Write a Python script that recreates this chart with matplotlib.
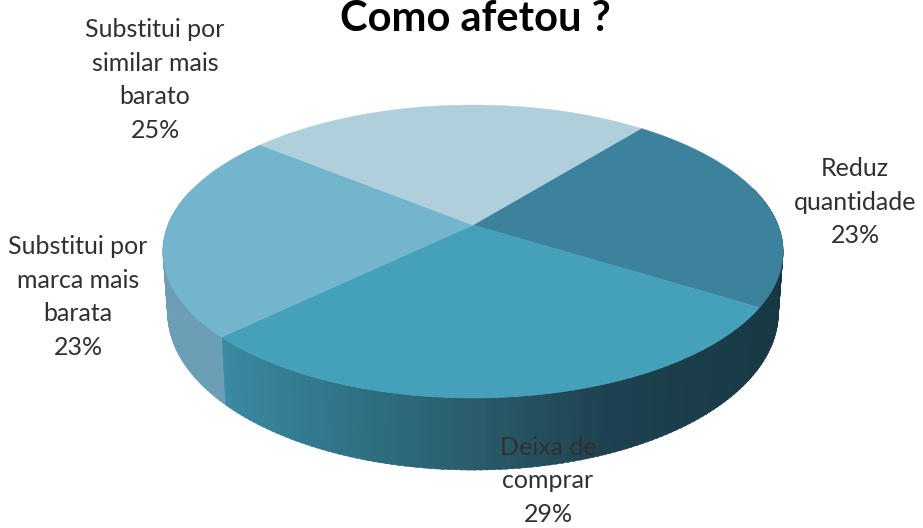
import numpy as np
import matplotlib
matplotlib.use("Agg")
import matplotlib.pyplot as plt
from matplotlib.colors import to_rgb

# dados do grafico, sentido horario
labels = ["Reduz\nquantidade", "Deixa de\ncomprar", "Substitui por\nmarca mais\nbarata", "Substitui por\nsimilar mais\nbarato"]
values = [23, 29, 23, 25]
top_colors = ["#3C829C", "#45A0B9", "#74B5CE", "#B0CFDC"]
label_pos = [(855, 202), (548, 481), (78, 297), (155, 80)]

# geometria da pizza 3D (pixels)
CX, CY = 473, 225
RX, RY = 305, 141.7
PERSP = 0.181
DEPTH = 59
BOTTOM_SHRINK = 0.985
START = 51.0


def project(theta):
    t = np.radians(theta)
    s = 1 + PERSP * np.sin(t)
    return CX + RX * np.cos(t) / s, CY - RY * np.sin(t) / s, s


def wall_color(theta):
    # claro na esquerda, escuro na direita
    x = np.cos(np.radians(theta))
    stops_x = [-1.0, -0.72, -0.3, 0.0, 0.35, 1.0]
    stops_c = ["#3B8AA3", "#3A8AA2", "#2F6F83", "#2A5C6C", "#1E4250", "#173642"]
    rgb = np.array([to_rgb(c) for c in stops_c])
    return tuple(np.interp(x, stops_x, rgb[:, i]) for i in range(3))


fig = plt.figure(figsize=(9.23, 5.28), dpi=100)
ax = fig.add_axes([0, 0, 1, 1])
ax.set_xlim(0, 923)
ax.set_ylim(528, 0)
ax.axis("off")

bounds = START - np.cumsum([0] + values) * 3.6
marca_end = bounds[2] % 360

# parede lateral (so a frente visivel)
for a in np.arange(165.0, 375.0, 1.0):
    x, y, s = project(np.array([a, a + 1.5]))
    xb = CX + (x - CX) * BOTTOM_SHRINK
    yb = y + DEPTH / s
    col = "#6C9FB6" if a < marca_end else wall_color(a)
    ax.fill([x[0], x[1], xb[1], xb[0]], [y[0], y[1], yb[1], yb[0]], color=col, lw=0.3, zorder=2)

# topo das fatias
for i, v in enumerate(values):
    th = np.linspace(bounds[i], bounds[i + 1], 120)
    x, y, _ = project(th)
    ax.fill(np.r_[CX, x], np.r_[CY, y], color=top_colors[i], lw=0.3, zorder=3)

font = ["Lato", "DejaVu Sans"]
for lab, v, (lx, ly) in zip(labels, values, label_pos):
    ax.text(lx, ly, f"{lab}\n{v}%", ha="center", va="center", fontsize=18, linespacing=1.55,
            color="#303030", family=font, zorder=5)

ax.text(475, 31, "Como afetou ?", ha="center", va="baseline", fontsize=30, fontweight="bold",
        color="black", family=font, zorder=5)

fig.savefig("out.png", dpi=100)
